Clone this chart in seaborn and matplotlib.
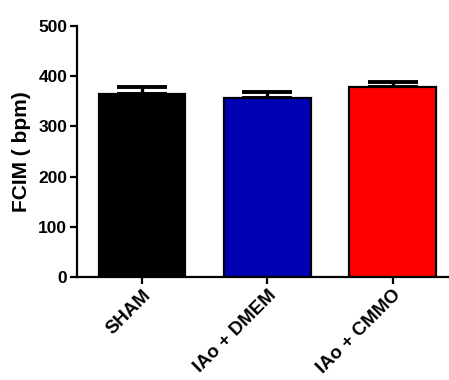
import matplotlib
matplotlib.use("Agg")
import matplotlib.pyplot as plt
import seaborn as sns
import pandas as pd
import numpy as np

groups = ["SHAM", "IAo + DMEM", "IAo + CMMO"]
means = [365, 357, 378]
errors = [13, 11, 10]
colors = ["#000000", "#0000B4", "#FF0000"]
yticks = [0, 100, 200, 300, 400, 500]

sns.set_theme(style="white")
plt.rcParams["font.family"] = ["Liberation Sans", "DejaVu Sans"]
plt.rcParams["font.weight"] = "bold"

df = pd.DataFrame({"group": groups, "value": means})

fig = plt.figure(figsize=(4.49, 3.80), dpi=100)
ax = fig.add_axes([77 / 449, 103 / 380, 1 - 77 / 449, 251 / 380])

sns.barplot(data=df, x="group", y="value", hue="group", palette=colors,
            order=groups, hue_order=groups, width=0.69, edgecolor="black",
            linewidth=1.6, errorbar=None, legend=False, saturation=1, ax=ax)
for p in ax.patches:
    p.set_zorder(2)

ax.errorbar(np.arange(len(groups)), means,
            yerr=[np.zeros(len(errors)), errors], fmt="none",
            ecolor="black", elinewidth=2.4, capsize=18, capthick=2.8, zorder=1)

ax.set_ylim(0, 500)
ax.set_xlim(-0.52, 2.45)
ax.set_yticks(yticks)
ax.set_yticklabels([str(t) for t in yticks], fontsize=12.5, fontweight="bold")
ax.set_xticks(range(len(groups)))
ax.set_xticklabels(groups, rotation=45, ha="right", rotation_mode="anchor",
                   fontsize=13.5, fontweight="bold")
ax.set_xlabel("")
ax.set_ylabel("FCIM ( bpm)", fontsize=15, fontweight="bold", labelpad=5,
              color="black")

for side in ["top", "right"]:
    ax.spines[side].set_visible(False)
for side in ["left", "bottom"]:
    ax.spines[side].set_color("black")
    ax.spines[side].set_linewidth(1.6)
ax.tick_params(axis="both", which="both", direction="out", length=5, width=1.6,
               color="black", left=True, bottom=True, pad=2, labelcolor="black")

fig.savefig("out.png", dpi=100)
